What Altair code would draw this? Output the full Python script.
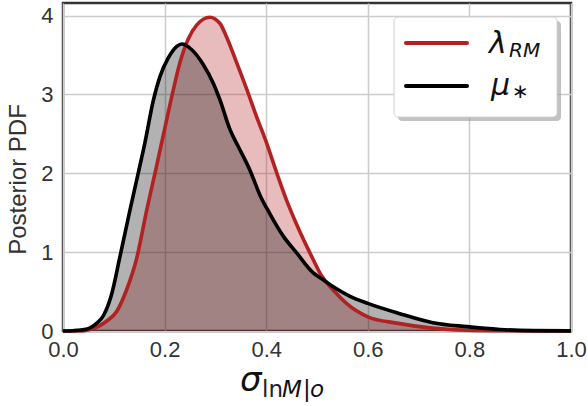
import altair as alt
import pandas as pd

# mu_* posterior (black)
x_mu = [0.0, 0.02, 0.035, 0.05, 0.065, 0.08, 0.095, 0.112, 0.132, 0.148, 0.161, 0.178, 0.191,
        0.207, 0.224, 0.234, 0.253, 0.276, 0.296, 0.309, 0.329, 0.345, 0.368, 0.388,
        0.407, 0.434, 0.46, 0.492, 0.51, 0.532, 0.565, 0.60, 0.663, 0.728, 0.795,
        0.86, 0.925, 1.0]
y_mu = [0.0, 0.004, 0.012, 0.03, 0.09, 0.2, 0.45, 0.94, 1.54, 2.0, 2.38, 2.93, 3.23,
        3.46, 3.61, 3.64, 3.57, 3.38, 3.14, 2.93, 2.55, 2.34, 2.04, 1.72,
        1.49, 1.20, 0.99, 0.74, 0.66, 0.56, 0.44, 0.35, 0.22, 0.105, 0.055,
        0.02, 0.005, 0.001]

# lambda_RM posterior (red)
x_rm = [0.0, 0.03, 0.053, 0.07, 0.085, 0.106, 0.125, 0.145, 0.165, 0.181, 0.197, 0.214,
        0.230, 0.247, 0.263, 0.289, 0.309, 0.322, 0.342, 0.362, 0.381, 0.401, 0.421,
        0.440, 0.46, 0.493, 0.509, 0.532, 0.558, 0.60, 0.657, 0.722, 0.795, 0.87, 1.0]
y_rm = [0.0, 0.0, 0.02, 0.06, 0.12, 0.25, 0.52, 0.92, 1.54, 2.0, 2.47, 2.97,
        3.40, 3.71, 3.88, 3.98, 3.90, 3.73, 3.40, 3.06, 2.72, 2.38, 2.0,
        1.66, 1.35, 0.90, 0.70, 0.52, 0.35, 0.18, 0.10, 0.04, 0.01, 0.003, 0.0]

x_ticks = [0.0, 0.2, 0.4, 0.6, 0.8, 1.0]
y_ticks = [0, 1, 2, 3, 4]

RED = "#b22222"
BLACK = "#000000"
LABEL_FONT = "Liberation Sans"
MATH_FONT = "DejaVu Sans"

df_mu = pd.DataFrame({"x": x_mu, "y": y_mu})
df_rm = pd.DataFrame({"x": x_rm, "y": y_rm})

xs = alt.Scale(domain=[0, 1], nice=False, zero=False)
ys = alt.Scale(domain=[0, 4.16], nice=False)

xenc = alt.X("x:Q", scale=xs, axis=alt.Axis(values=x_ticks, format=".1f", title=None,
                                            grid=True, labelFlush=False))
yenc = alt.Y("y:Q", scale=ys, axis=alt.Axis(values=y_ticks, format="d", title="Posterior PDF",
                                            grid=True, titleY=176))

INTERP = "monotone"
area_rm = alt.Chart(df_rm).mark_area(color=RED, opacity=0.3, interpolate=INTERP).encode(x=xenc, y=yenc)
area_mu = alt.Chart(df_mu).mark_area(color=BLACK, opacity=0.3, interpolate=INTERP).encode(x=xenc, y=yenc)
line_rm = alt.Chart(df_rm).mark_line(color=RED, strokeWidth=3.6, interpolate=INTERP).encode(x=xenc, y=yenc)
line_mu = alt.Chart(df_mu).mark_line(color=BLACK, strokeWidth=3.6, interpolate=INTERP).encode(x=xenc, y=yenc)

# legend box (manual, to allow sub-scripted math labels)
shadow = alt.Chart(pd.DataFrame({"a": [0]})).mark_rect(
    fill="#999999", opacity=0.6, cornerRadius=4
).encode(x=alt.value(335), x2=alt.value(498), y=alt.value(18), y2=alt.value(118))
box = alt.Chart(pd.DataFrame({"a": [0]})).mark_rect(
    fill="white", stroke="#d0d0d0", strokeWidth=1, cornerRadius=4
).encode(x=alt.value(331), x2=alt.value(494), y=alt.value(14), y2=alt.value(114))
leg_rm = alt.Chart(pd.DataFrame({"a": [0]})).mark_rule(color=RED, strokeWidth=4, strokeCap="round").encode(
    x=alt.value(343), x2=alt.value(404), y=alt.value(40))
leg_mu = alt.Chart(pd.DataFrame({"a": [0]})).mark_rule(color=BLACK, strokeWidth=4, strokeCap="round").encode(
    x=alt.value(343), x2=alt.value(404), y=alt.value(83))


def txt(s, x, y, size, style="italic", align="left", baseline="alphabetic", font=MATH_FONT, color="#111111"):
    return alt.Chart(pd.DataFrame({"t": [s]})).mark_text(
        font=font, fontSize=size, fontStyle=style, align=align, baseline=baseline, color=color
    ).encode(x=alt.value(x), y=alt.value(y), text="t:N")


leg_texts = [
    txt("λ", 426, 50, 30),
    txt("RM", 446, 54, 20),
    txt("μ", 428, 92, 30),
    txt("∗", 449, 95, 20, style="normal"),
]

# x-axis title: sigma_{ln M|o}
xt_y = 388
x_title = [
    txt("σ", 177, xt_y, 34),
    txt("ln", 199, xt_y + 6, 23, style="normal", color="#222222"),
    txt("M", 219, xt_y + 6, 23),
    txt("|", 240, xt_y + 6, 23, style="normal"),
    txt("o", 247, xt_y + 6, 23),
]

chart = alt.layer(
    area_rm, area_mu, line_rm, line_mu, shadow, box, leg_rm, leg_mu, *leg_texts, *x_title
).properties(
    width=508, height=328,
    autosize=alt.AutoSizeParams(type="none"),
    padding={"left": 63, "top": 3, "right": 17, "bottom": 75},
    background="white",
).configure_view(
    stroke="#333333", strokeWidth=2.5
).configure_axis(
    domain=False, ticks=False,
    gridColor="#cccccc", gridWidth=1.5,
    labelFont=LABEL_FONT, labelFontSize=22, labelColor="#333333",
    titleFont=LABEL_FONT, titleFontSize=24, titleColor="#333333", titleFontWeight="normal",
).configure_axisX(
    labelPadding=8,
).configure_axisY(
    labelPadding=10, titlePadding=10,
)

chart.save("out.html", embed_options={"renderer": "svg", "actions": False})
